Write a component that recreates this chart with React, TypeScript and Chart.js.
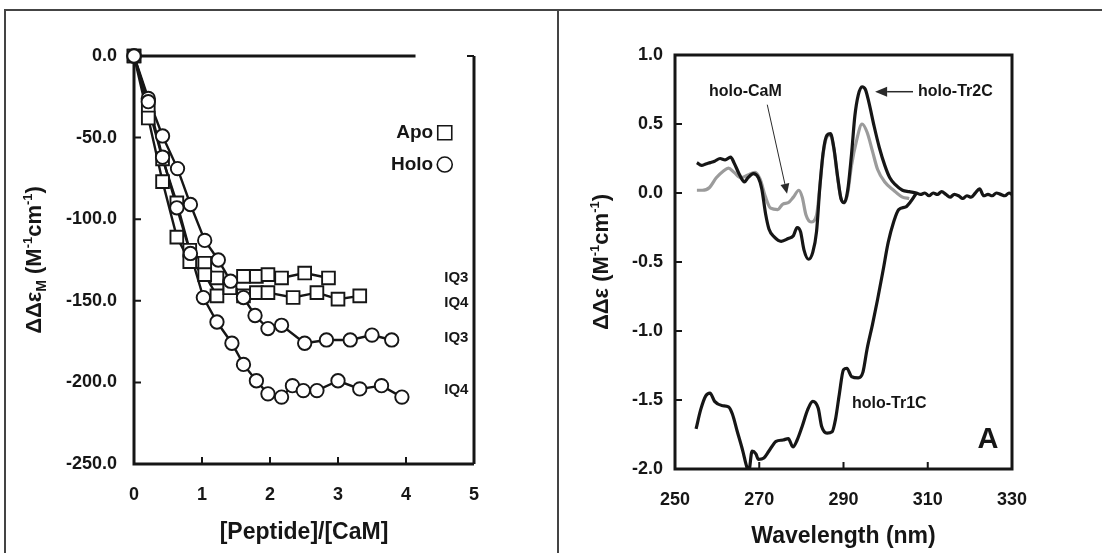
import React, { useEffect, useRef } from 'react';
import { Chart, registerables } from 'chart.js';

Chart.register(...registerables);

const FAM = '"Liberation Sans", Arial, Helvetica, sans-serif';
const INK = '#161616';
const GRAY = '#9b9b9b';
const FRAME = '#444444';

// ---------------- Left panel: titration data ----------------
const apoIQ3X = [0, 0.21, 0.42, 0.63, 0.82, 1.04, 1.22, 1.41, 1.61, 1.8, 1.97, 2.17, 2.51, 2.86];
const apoIQ3Y = [0, -31, -63, -90, -119, -127, -136, -141, -135, -135, -134, -136, -133, -136];

const apoIQ4X = [0, 0.21, 0.42, 0.63, 0.82, 1.04, 1.22, 1.41, 1.61, 1.8, 1.97, 2.34, 2.69, 3.0, 3.32];
const apoIQ4Y = [0, -38, -77, -111, -126, -134, -147, -142, -147, -145, -145, -148, -145, -149, -147];

const holoIQ3X = [0, 0.21, 0.42, 0.64, 0.83, 1.04, 1.24, 1.42, 1.61, 1.78, 1.97, 2.17, 2.51, 2.83, 3.18, 3.5, 3.79];
const holoIQ3Y = [0, -26, -49, -69, -91, -113, -125, -138, -148, -159, -167, -165, -176, -174, -174, -171, -174];

const holoIQ4X = [0, 0.21, 0.42, 0.63, 0.83, 1.02, 1.22, 1.44, 1.61, 1.8, 1.97, 2.17, 2.33, 2.49, 2.69, 3.0, 3.32, 3.64, 3.94];
const holoIQ4Y = [0, -28, -62, -93, -121, -148, -163, -176, -189, -199, -207, -209, -202, -205, -205, -199, -204, -202, -209];

const zeroLineX = [0, 4.14];
const zeroLineY = [0, 0];

const leftXRange = [0, 5];
const leftYRange = [-250, 0];

// ---------------- Right panel: CD spectra ----------------
const tr2cNm = [
  255.2, 256.3, 257.3, 258.4, 259.4, 260.7, 261.9, 263.2, 264.0, 265.2, 266.5, 267.3, 268.6, 269.8,
  270.6, 271.5, 272.3, 273.6, 275.2, 276.9, 278.1, 279.0, 279.8, 280.6, 281.7, 282.7, 283.6, 284.4,
  285.2, 286.1, 286.9, 287.7, 288.6, 289.4, 290.2, 291.0, 291.9, 292.7, 293.5, 294.4, 295.2, 296.0,
  297.3, 298.5, 299.8, 301.0, 302.3, 304.0, 305.6, 307.3, 308.3, 309.3, 310.3, 311.3, 312.3, 313.3,
  314.3, 315.3, 316.3, 317.3, 318.3, 319.3, 320.3, 321.3, 322.3, 323.3, 324.3, 325.3, 326.3, 327.3,
  328.3, 329.3, 330.0,
];
const tr2cVal = [
  0.22, 0.2, 0.21, 0.22, 0.23, 0.25, 0.24, 0.26, 0.22, 0.14, 0.08, 0.11, 0.14, 0.11,
  0.03, -0.15, -0.26, -0.32, -0.35, -0.33, -0.31, -0.25, -0.28, -0.41, -0.48, -0.43, -0.28, 0.05,
  0.3, 0.42, 0.43, 0.33, 0.12, -0.04, -0.07, 0.02, 0.28, 0.56, 0.71, 0.77, 0.75, 0.66,
  0.48, 0.33, 0.2, 0.11, 0.06, 0.02, 0.01, 0.0, -0.01, 0.0, -0.02, 0.0, -0.01, 0.01,
  -0.01, -0.03, -0.01, -0.02, -0.04, -0.02, -0.03, 0.0, 0.03, -0.02, -0.01, -0.02, 0.0, -0.01,
  -0.02, 0.0, -0.01,
];

const camNm = [
  255.2, 256.5, 258.2, 259.8, 261.5, 262.7, 264.0, 265.7, 267.3, 269.0, 270.2, 271.5, 272.7, 274.4,
  275.6, 276.9, 278.1, 279.4, 280.2, 281.1, 282.3, 283.6, 284.4, 285.2, 286.1, 286.9, 287.7, 288.6,
  289.4, 290.2, 291.0, 291.9, 293.1, 294.4, 295.6, 296.9, 298.1, 299.8, 301.9, 304.0, 305.6,
];
const camVal = [
  0.02, 0.02, 0.04, 0.11, 0.16, 0.18, 0.15, 0.11, 0.13, 0.15, 0.1, -0.03, -0.11, -0.12,
  -0.08, -0.07, -0.03, 0.02, -0.03, -0.16, -0.21, -0.16, 0.05, 0.29, 0.41, 0.42, 0.32, 0.11,
  -0.04, -0.07, 0.0, 0.2, 0.38, 0.5, 0.44, 0.3, 0.17, 0.08, 0.02, -0.03, -0.04,
];

const tr1cNm = [
  255.0, 256.1, 257.3, 258.3, 259.4, 261.1, 262.7, 263.6, 264.8, 266.1, 266.9, 267.5, 268.3, 269.2,
  269.8, 271.1, 272.3, 274.0, 275.6, 276.9, 278.0, 279.0, 280.2, 281.5, 282.7, 284.0, 284.8, 286.1,
  287.3, 288.1, 289.0, 290.0, 290.8, 291.9, 293.5, 294.6, 295.6, 296.9, 298.1, 299.4, 300.6, 301.9,
  303.1, 304.8, 306.0, 307.3,
];
const tr1cVal = [
  -1.71, -1.57, -1.47, -1.45, -1.51, -1.54, -1.55, -1.6, -1.73, -1.87, -1.97, -2.02, -1.87, -1.89,
  -1.93, -1.92, -1.87, -1.8, -1.79, -1.78, -1.84, -1.79, -1.69, -1.57, -1.51, -1.56, -1.69, -1.74,
  -1.73, -1.64, -1.46, -1.28, -1.27, -1.33, -1.34, -1.3, -1.13, -0.95, -0.77, -0.56, -0.36, -0.21,
  -0.12, -0.1, -0.06, 0.0,
];

const rightXRange = [250, 330];
const rightYRange = [-2, 1];

const pts = (xs: number[], ys: number[]) => xs.map((x, i) => ({ x, y: ys[i] }));

function drawRichVertical(ctx: CanvasRenderingContext2D, cx: number, cy: number, parts: { t: string; size: number; dy: number }[]) {
  ctx.save();
  ctx.translate(cx, cy);
  ctx.rotate(-Math.PI / 2);
  ctx.fillStyle = INK;
  ctx.textBaseline = 'alphabetic';
  ctx.textAlign = 'left';
  const widths = parts.map((p) => {
    ctx.font = `bold ${p.size}px ${FAM}`;
    return ctx.measureText(p.t).width;
  });
  const total = widths.reduce((a, b) => a + b, 0);
  let x = -total / 2;
  const base = 8;
  parts.forEach((p, i) => {
    ctx.font = `bold ${p.size}px ${FAM}`;
    ctx.fillText(p.t, x, base + p.dy);
    x += widths[i];
  });
  ctx.restore();
}

function arrow(ctx: CanvasRenderingContext2D, x0: number, y0: number, x1: number, y1: number, lw: number, hl: number, hw: number) {
  const ang = Math.atan2(y1 - y0, x1 - x0);
  const bx = x1 - hl * Math.cos(ang);
  const by = y1 - hl * Math.sin(ang);
  ctx.beginPath();
  ctx.lineWidth = lw;
  ctx.moveTo(x0, y0);
  ctx.lineTo(bx, by);
  ctx.stroke();
  ctx.beginPath();
  ctx.moveTo(x1, y1);
  ctx.lineTo(bx + hw * Math.sin(ang), by - hw * Math.cos(ang));
  ctx.lineTo(bx - hw * Math.sin(ang), by + hw * Math.cos(ang));
  ctx.closePath();
  ctx.fill();
}

const leftDecor = {
  id: 'leftDecor',
  beforeDatasetsDraw(chart: any) {
    const { ctx, chartArea: a, scales } = chart;
    const xs = scales.x;
    const ys = scales.y;
    ctx.save();
    ctx.strokeStyle = INK;
    ctx.lineWidth = 3;
    ctx.beginPath();
    ctx.moveTo(a.left, a.top);
    ctx.lineTo(a.left, a.bottom);
    ctx.lineTo(a.right, a.bottom);
    ctx.moveTo(a.right, a.top);
    ctx.lineTo(a.right, a.bottom);
    ctx.stroke();
    ctx.lineWidth = 2;
    ctx.beginPath();
    ys.ticks.forEach((t: any) => {
      if (t.value <= ys.min || t.value >= ys.max) return;
      const py = ys.getPixelForValue(t.value);
      ctx.moveTo(a.left, py);
      ctx.lineTo(a.left + 7, py);
    });
    xs.ticks.forEach((t: any) => {
      if (t.value <= xs.min || t.value >= xs.max) return;
      const px = xs.getPixelForValue(t.value);
      ctx.moveTo(px, a.bottom);
      ctx.lineTo(px, a.bottom - 7);
    });
    ctx.moveTo(a.right, a.top);
    ctx.lineTo(a.right - 7, a.top);
    ctx.stroke();
    ctx.restore();
  },
  afterDraw(chart: any) {
    const { ctx, chartArea: a, scales } = chart;
    const xs = scales.x;
    const ys = scales.y;
    ctx.save();
    ctx.fillStyle = INK;
    ctx.strokeStyle = INK;
    ctx.font = `bold 19px ${FAM}`;
    ctx.textAlign = 'right';
    ctx.textBaseline = 'middle';
    const lx = xs.getPixelForValue(4.4);
    const mx = xs.getPixelForValue(4.57);
    const ly1 = ys.getPixelForValue(-47);
    const ly2 = ys.getPixelForValue(-66.5);
    ctx.fillText('Apo', lx, ly1);
    ctx.fillText('Holo', lx, ly2);
    ctx.lineWidth = 1.6;
    ctx.fillStyle = '#fff';
    ctx.beginPath();
    ctx.rect(mx - 7, ly1 - 7, 14, 14);
    ctx.fill();
    ctx.stroke();
    ctx.beginPath();
    ctx.arc(mx, ly2, 7.5, 0, Math.PI * 2);
    ctx.fill();
    ctx.stroke();
    ctx.fillStyle = INK;
    ctx.font = `bold 15px ${FAM}`;
    ctx.textAlign = 'center';
    const sx = xs.getPixelForValue(4.74);
    ctx.fillText('IQ3', sx, ys.getPixelForValue(-136));
    ctx.fillText('IQ4', sx, ys.getPixelForValue(-151.3));
    ctx.fillText('IQ3', sx, ys.getPixelForValue(-172.7));
    ctx.fillText('IQ4', sx, ys.getPixelForValue(-204.6));
    ctx.restore();
    drawRichVertical(ctx, a.left - 101, (a.top + a.bottom) / 2, [
      { t: 'ΔΔε', size: 22, dy: 0 },
      { t: 'M', size: 14, dy: 5 },
      { t: ' (M', size: 22, dy: 0 },
      { t: '-1', size: 13, dy: -9 },
      { t: 'cm', size: 22, dy: 0 },
      { t: '-1', size: 13, dy: -9 },
      { t: ')', size: 22, dy: 0 },
    ]);
  },
};

const rightDecor = {
  id: 'rightDecor',
  afterDatasetsDraw(chart: any) {
    const { ctx, chartArea: a, scales } = chart;
    const xs = scales.x;
    const ys = scales.y;
    ctx.save();
    ctx.strokeStyle = INK;
    ctx.lineWidth = 3;
    ctx.strokeRect(a.left, a.top, a.right - a.left, a.bottom - a.top);
    ctx.lineWidth = 2;
    ctx.beginPath();
    ys.ticks.forEach((t: any) => {
      if (t.value <= ys.min || t.value >= ys.max) return;
      const py = ys.getPixelForValue(t.value);
      ctx.moveTo(a.left, py);
      ctx.lineTo(a.left + 7, py);
    });
    xs.ticks.forEach((t: any) => {
      if (t.value <= xs.min || t.value >= xs.max) return;
      const px = xs.getPixelForValue(t.value);
      ctx.moveTo(px, a.bottom);
      ctx.lineTo(px, a.bottom - 7);
    });
    ctx.stroke();
    ctx.restore();
  },
  afterDraw(chart: any) {
    const { ctx, chartArea: a, scales } = chart;
    const xs = scales.x;
    const ys = scales.y;
    const X = (v: number) => xs.getPixelForValue(v);
    const Y = (v: number) => ys.getPixelForValue(v);
    ctx.save();
    ctx.fillStyle = INK;
    ctx.strokeStyle = '#2a2a2a';
    ctx.font = `bold 16px ${FAM}`;
    ctx.textBaseline = 'middle';
    ctx.textAlign = 'center';
    ctx.fillText('holo-CaM', X(266.7), Y(0.736));
    ctx.textAlign = 'left';
    ctx.fillText('holo-Tr2C', X(307.7), Y(0.734));
    ctx.fillText('holo-Tr1C', X(292.0), Y(-1.527));
    ctx.fillStyle = '#2a2a2a';
    arrow(ctx, X(306.5), Y(0.734), X(297.5), Y(0.734), 1.5, 12, 5);
    arrow(ctx, X(271.9), Y(0.64), X(276.6), Y(-0.005), 1, 10, 4.5);
    ctx.fillStyle = INK;
    ctx.font = `bold 29px ${FAM}`;
    ctx.textAlign = 'center';
    ctx.fillText('A', X(324.3), Y(-1.79));
    ctx.restore();
    drawRichVertical(ctx, a.left - 75, (a.top + a.bottom) / 2, [
      { t: 'ΔΔε', size: 22, dy: 0 },
      { t: ' (M', size: 22, dy: 0 },
      { t: '-1', size: 13, dy: -9 },
      { t: 'cm', size: 22, dy: 0 },
      { t: '-1', size: 13, dy: -9 },
      { t: ')', size: 22, dy: 0 },
    ]);
  },
};

const tickFont = { family: FAM, size: 18, weight: 'bold' as const };
const titleFont = { family: FAM, size: 23, weight: 'bold' as const };

function leftConfig(): any {
  const lineDs = (xs: number[], ys: number[]) => ({
    data: pts(xs, ys),
    borderColor: INK,
    borderWidth: 2.4,
    pointRadius: 0,
    clip: false,
    order: 3,
  });
  const markDs = (xs: number[], ys: number[], style: string, r: number) => ({
    data: pts(xs, ys),
    showLine: false,
    pointStyle: style,
    pointRadius: r,
    pointBorderWidth: 1.9,
    pointBorderColor: INK,
    pointBackgroundColor: '#ffffff',
    clip: false,
    order: 1,
  });
  return {
    type: 'line',
    data: {
      datasets: [
        { data: pts(zeroLineX, zeroLineY), borderColor: INK, borderWidth: 3, pointRadius: 0, clip: false, order: 4 },
        lineDs(apoIQ3X, apoIQ3Y),
        lineDs(apoIQ4X, apoIQ4Y),
        lineDs(holoIQ3X, holoIQ3Y),
        lineDs(holoIQ4X, holoIQ4Y),
        markDs(holoIQ4X, holoIQ4Y, 'circle', 6.7),
        markDs(holoIQ3X, holoIQ3Y, 'circle', 6.7),
        markDs(apoIQ4X, apoIQ4Y, 'rect', 9),
        markDs(apoIQ3X, apoIQ3Y, 'rect', 9),
      ],
    },
    options: {
      animation: false,
      responsive: false,
      maintainAspectRatio: false,
      events: [],
      layout: { padding: { top: 56, right: 77, left: 0, bottom: 0 } },
      plugins: { legend: { display: false }, tooltip: { enabled: false } },
      scales: {
        x: {
          type: 'linear',
          min: leftXRange[0],
          max: leftXRange[1],
          grid: { display: false, drawTicks: false },
          border: { display: false },
          ticks: { stepSize: 1, padding: 20, font: tickFont, color: INK, autoSkip: false, maxRotation: 0, callback: (v: number) => String(v) },
          title: { display: true, text: '[Peptide]/[CaM]', font: titleFont, color: INK, padding: { top: 0, bottom: 7 } },
          afterFit: (s: any) => { s.height = 89; },
        },
        y: {
          type: 'linear',
          min: leftYRange[0],
          max: leftYRange[1],
          grid: { display: false, drawTicks: false },
          border: { display: false },
          ticks: { stepSize: 50, padding: 17, font: tickFont, color: INK, autoSkip: false, callback: (v: number) => v.toFixed(1) },
          afterFit: (s: any) => { s.width = 134; },
        },
      },
    },
    plugins: [leftDecor],
  };
}

function rightConfig(): any {
  return {
    type: 'line',
    data: {
      datasets: [
        { data: pts(tr2cNm, tr2cVal), borderColor: INK, borderWidth: 3.2, pointRadius: 0, cubicInterpolationMode: 'monotone', order: 1 },
        { data: pts(tr1cNm, tr1cVal), borderColor: INK, borderWidth: 3.2, pointRadius: 0, cubicInterpolationMode: 'monotone', order: 2 },
        { data: pts(camNm, camVal), borderColor: GRAY, borderWidth: 3.2, pointRadius: 0, cubicInterpolationMode: 'monotone', order: 3 },
      ],
    },
    options: {
      animation: false,
      responsive: false,
      maintainAspectRatio: false,
      events: [],
      layout: { padding: { top: 55, right: 90, left: 0, bottom: 0 } },
      plugins: { legend: { display: false }, tooltip: { enabled: false } },
      scales: {
        x: {
          type: 'linear',
          min: rightXRange[0],
          max: rightXRange[1],
          grid: { display: false, drawTicks: false },
          border: { display: false },
          ticks: { stepSize: 20, padding: 20, font: tickFont, color: INK, autoSkip: false, maxRotation: 0, callback: (v: number) => String(v) },
          title: { display: true, text: 'Wavelength (nm)', font: titleFont, color: INK, padding: { top: 0, bottom: 2.5 } },
          afterFit: (s: any) => { s.height = 84; },
        },
        y: {
          type: 'linear',
          min: rightYRange[0],
          max: rightYRange[1],
          grid: { display: false, drawTicks: false },
          border: { display: false },
          ticks: { stepSize: 0.5, padding: 12, font: tickFont, color: INK, autoSkip: false, callback: (v: number) => v.toFixed(1) },
          afterFit: (s: any) => { s.width = 124; },
        },
      },
    },
    plugins: [rightDecor],
  };
}

function ChartCanvas({ left, config }: { left: number; config: () => any }) {
  const ref = useRef<HTMLCanvasElement | null>(null);
  useEffect(() => {
    if (!ref.current) return;
    const chart = new Chart(ref.current, config());
    return () => chart.destroy();
  }, [config]);
  return (
    <canvas
      ref={ref}
      width={551}
      height={553}
      style={{ position: 'absolute', left, top: 0, width: 551, height: 553 }}
    />
  );
}

export default function App() {
  return (
    <div
      style={{
        position: 'fixed',
        left: 0,
        top: 0,
        width: 1102,
        height: 553,
        background: '#ffffff',
        overflow: 'hidden',
      }}
    >
      <ChartCanvas left={0} config={leftConfig} />
      <ChartCanvas left={551} config={rightConfig} />
      <div style={{ position: 'absolute', left: 5, top: 9, width: 1097, height: 2, background: FRAME }} />
      <div style={{ position: 'absolute', left: 4, top: 9, width: 2, height: 544, background: FRAME }} />
      <div style={{ position: 'absolute', left: 557, top: 9, width: 2, height: 544, background: FRAME }} />
    </div>
  );
}
